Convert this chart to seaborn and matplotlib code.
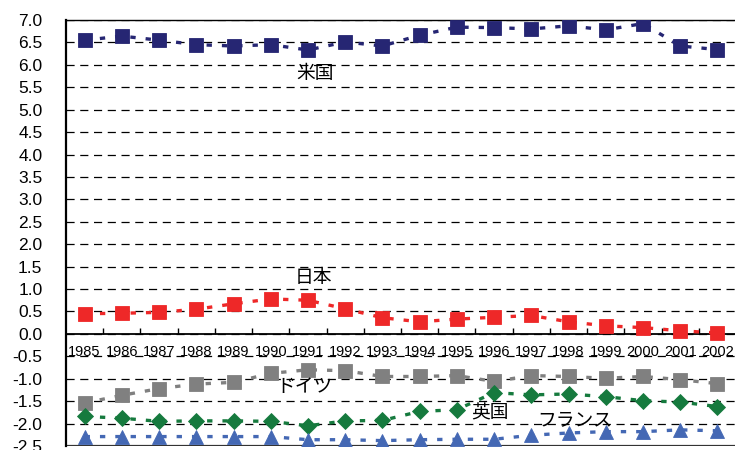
import numpy as np
import pandas as pd
import matplotlib
matplotlib.use("Agg")
import matplotlib.pyplot as plt
from matplotlib.ticker import MultipleLocator, FixedLocator
import seaborn as sns

# Balance figures by country, 1985-2002
years = [str(y) for y in range(1985, 2003)]
us = [6.55, 6.64, 6.55, 6.45, 6.42, 6.45, 6.33, 6.51, 6.42, 6.66,
      6.84, 6.83, 6.80, 6.87, 6.78, 6.92, 6.42, 6.34]
japan = [0.45, 0.46, 0.48, 0.55, 0.67, 0.78, 0.75, 0.56, 0.36, 0.27,
         0.33, 0.37, 0.41, 0.27, 0.18, 0.14, 0.07, 0.02]
germany = [-1.54, -1.37, -1.22, -1.12, -1.08, -0.88, -0.80, -0.82, -0.95, -0.95,
           -0.93, -1.06, -0.93, -0.95, -0.99, -0.95, -1.02, -1.11]
uk = [-1.84, -1.88, -1.95, -1.94, -1.94, -1.95, -2.05, -1.94, -1.93, -1.73,
      -1.69, -1.31, -1.36, -1.34, -1.40, -1.49, -1.52, -1.62]
france = [-2.29, -2.29, -2.29, -2.29, -2.29, -2.29, -2.36, -2.36, -2.38, -2.36,
          -2.35, -2.35, -2.26, -2.21, -2.18, -2.18, -2.14, -2.16]

series_names = ["米国", "日本", "ドイツ", "英国", "フランス"]
series_values = [us, japan, germany, uk, france]
series_colors = ["#262673", "#EE2828", "#808080", "#167A3E", "#4468B4"]
series_markers = ["s", "s", "s", "D", "^"]
series_msizes = [9.5, 9.5, 9.5, 8.0, 9.5]

# label anchor points (category position, value)
label_pos = {"米国": (6.19, 5.81), "日本": (6.14, 1.25), "ドイツ": (5.92, -1.18),
             "英国": (10.89, -1.76), "フランス": (13.18, -1.92)}

sns.set_theme(style="white")
plt.rcParams["font.family"] = ["Liberation Sans", "Noto Sans CJK JP", "DejaVu Sans"]

fig = plt.figure(figsize=(7.35, 4.5), dpi=100)
ax = fig.add_axes([0.0898, 0.0089, 0.9116, 0.9467])

idx = np.arange(len(years))
for name, vals, col, mk, ms in zip(series_names, series_values, series_colors,
                                   series_markers, series_msizes):
    df = pd.DataFrame({"pos": idx, "value": vals})
    sns.lineplot(data=df, x="pos", y="value", ax=ax, color=col, linewidth=2.4,
                 marker=mk, markersize=ms, markeredgewidth=0.6, markeredgecolor=col,
                 zorder=3)
    ax.lines[-1].set_dashes((1.6, 3.0))

for name, (lx, ly) in label_pos.items():
    ax.text(lx, ly, name, ha="center", va="center", fontsize=13.5,
            family=["Noto Sans CJK JP", "DejaVu Sans"], color="black", zorder=4)

ax.set_xlim(-0.5, len(years) - 0.5)
ax.set_ylim(-2.5, 7.0)
ax.yaxis.set_major_locator(MultipleLocator(0.5))
ax.yaxis.set_major_formatter(matplotlib.ticker.FormatStrFormatter("%.1f"))
ax.set_xticks(idx)
ax.set_xticklabels(years)
ax.xaxis.set_minor_locator(FixedLocator(np.arange(0.5, len(years) - 0.5, 1.0)))

ax.grid(axis="y", color="black", linestyle=(0, (6.5, 4.5)), linewidth=0.9)
ax.grid(axis="x", visible=False)
ax.set_axisbelow(True)

ax.spines["right"].set_visible(False)
ax.spines["top"].set_color("black")
ax.spines["top"].set_linewidth(1.0)
ax.spines["left"].set_color("black")
ax.spines["left"].set_linewidth(1.6)
ax.spines["bottom"].set_position(("data", 0))
ax.spines["bottom"].set_color("black")
ax.spines["bottom"].set_linewidth(1.3)
ax.axhline(-2.5, color="#333333", linewidth=1.6, zorder=2)

ax.tick_params(axis="y", length=0, pad=17, labelsize=12.5, labelcolor="black")
ax.tick_params(axis="x", which="major", length=0, pad=8, labelsize=10.5,
               labelcolor="black")
ax.tick_params(axis="x", which="minor", direction="in", length=4, width=1,
               color="black", bottom=True)
ax.set_xlabel("")
ax.set_ylabel("")

fig.savefig("out.png", dpi=100)
